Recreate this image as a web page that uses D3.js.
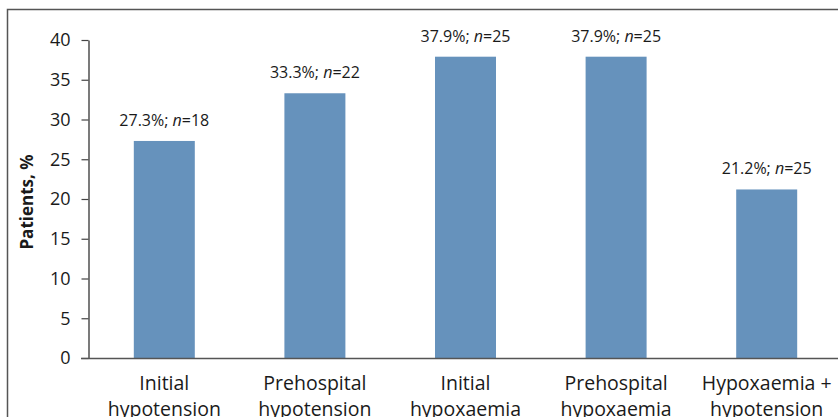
<!DOCTYPE html>
<html>
<head>
<meta charset="utf-8">
<script src="https://cdn.jsdelivr.net/npm/d3@7"></script>
<style>
  body { margin: 0; background: #fff; }
  svg { display: block; font-family: "Open Sans", "Noto Sans", sans-serif; }
</style>
</head>
<body>
<div id="chart"></div>
<script>
// categories (two lines each) and values
const categories = ['Initial|hypotension', 'Prehospital|hypotension', 'Initial|hypoxaemia', 'Prehospital|hypoxaemia', 'Hypoxaemia +|hypotension'];
const percents = [27.3, 33.3, 37.9, 37.9, 21.2];
const counts = [18, 22, 25, 25, 25];
const yTicks = [0, 5, 10, 15, 20, 25, 30, 35, 40];

const width = 838, height = 417;
const margin = { top: 40, right: -4, bottom: 59, left: 89 };

const svg = d3.select('#chart').append('svg')
    .attr('width', width)
    .attr('height', height);

// outer frame (only top and left visible in the crop)
svg.append('rect')
    .attr('x', 7.5).attr('y', 9.5)
    .attr('width', width + 20).attr('height', height + 20)
    .attr('fill', 'none')
    .attr('stroke', '#555')
    .attr('stroke-width', 1.5);

const x = d3.scaleBand()
    .domain(categories)
    .range([margin.left, width - margin.right])
    .paddingInner(0.595)
    .paddingOuter(0.2975);

const y = d3.scaleLinear()
    .domain([0, 40])
    .range([height - margin.bottom, margin.top]);

// bars
svg.append('g').selectAll('rect')
    .data(categories)
    .join('rect')
    .attr('x', d => x(d))
    .attr('y', (d, i) => y(percents[i]))
    .attr('width', x.bandwidth())
    .attr('height', (d, i) => y(0) - y(percents[i]))
    .attr('fill', '#6692bc');

// value labels
const labels = svg.append('g').selectAll('text')
    .data(categories)
    .join('text')
    .attr('x', d => x(d) + x.bandwidth() / 2)
    .attr('y', (d, i) => y(percents[i]) - 15)
    .attr('text-anchor', 'middle')
    .attr('font-size', 16)
    .attr('fill', '#1a1a1a');
labels.append('tspan').text((d, i) => percents[i].toFixed(1) + '%; ');
labels.append('tspan').attr('font-style', 'italic').text('n');
labels.append('tspan').text((d, i) => '=' + counts[i]);

// y axis
const yAxis = svg.append('g')
    .attr('transform', `translate(${margin.left - 0.5},0)`)
    .call(d3.axisLeft(y).tickValues(yTicks).tickSize(7).tickPadding(11).tickSizeOuter(0));
yAxis.select('.domain').attr('stroke', '#222').attr('stroke-width', 1.2);
yAxis.selectAll('.tick line').attr('stroke', '#444').attr('stroke-width', 1.2);
yAxis.selectAll('.tick text').attr('font-size', 18).attr('fill', '#1a1a1a')
    .attr('font-family', '"Open Sans", sans-serif');

// x axis
const xAxis = svg.append('g')
    .attr('transform', `translate(0,${y(0)})`)
    .call(d3.axisBottom(x).tickSize(0).tickSizeOuter(0).tickFormat(''));
xAxis.select('.domain').attr('stroke', '#555').attr('stroke-width', 1.5)
    .attr('d', `M${margin.left - 8},0.5H${width}`);

// category labels, two lines
const catText = svg.append('g').selectAll('text')
    .data(categories)
    .join('text')
    .attr('x', d => x(d) + x.bandwidth() / 2)
    .attr('y', 390)
    .attr('text-anchor', 'middle')
    .attr('font-size', 19.5)
    .attr('fill', '#1a1a1a');
catText.selectAll('tspan')
    .data(d => d.split('|').map(t => ({ t, cx: x(d) + x.bandwidth() / 2 })))
    .join('tspan')
    .attr('x', d => d.cx)
    .attr('dy', (d, i) => i === 0 ? 0 : 26)
    .text(d => d.t);

// y axis title
svg.append('text')
    .attr('transform', `translate(33,${(y(0) + y(40)) / 2 + 3}) rotate(-90)`)
    .attr('text-anchor', 'middle')
    .attr('font-size', 17)
    .attr('font-weight', 'bold')
    .attr('fill', '#1a1a1a')
    .text('Patients, %');
</script>
</body>
</html>
